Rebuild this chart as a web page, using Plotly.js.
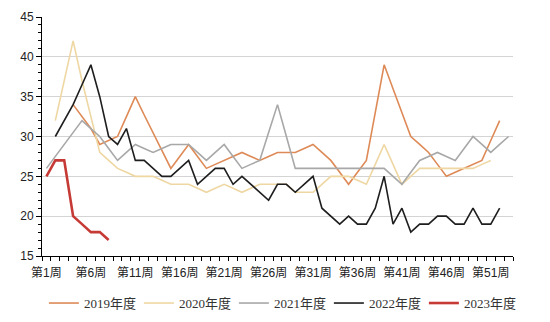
<!DOCTYPE html>
<html>
<head>
<meta charset="utf-8">
<script src="https://cdn.plot.ly/plotly-3.0.1.min.js"></script>
<style>
html,body{margin:0;padding:0;background:#fff;}
#chart{width:550px;height:322px;}
</style>
</head>
<body>
<div id="chart"></div>
<script>
// Week numbers (category positions)
var weeks = [1,2,3,4,5,6,7,8,9,10,11,12,13,14,15,16,17,18,19,20,21,22,23,24,25,26,27,28,29,30,31,32,33,34,35,36,37,38,39,40,41,42,43,44,45,46,47,48,49,50,51,52,53];
var tickVals = [1,6,11,16,21,26,31,36,41,46,51];
var tickText = ["第1周","第6周","第11周","第16周","第21周","第26周","第31周","第36周","第41周","第46周","第51周"];

var seriesNames = ["2019年度","2020年度","2021年度","2022年度","2023年度"];

var v2019 = [null,null,null,34,32.5,31,29,29.5,30,32.5,35,32.7,30.5,28.2,26,27.5,29,27.5,26,26.5,27,27.5,28,27.5,27,27.5,28,28,28,28.5,29,28,27,25.5,24,25.5,27,33,39,36,33,30,29,28,26.5,25,25.5,26,26.5,27,29.5,32,null];
var v2020 = [null,32,37,42,37,32.5,28,27,26,25.5,25,25,25,24.5,24,24,24,23.5,23,23.5,24,23.5,23,23.5,24,24,24,24,23,23,23,24,25,25,25,24.5,24,26.5,29,26.5,24,25,26,26,26,26,26,26,26,26.5,27,null,null];
var v2021 = [26,27.5,29,30.5,32,31,30,28.5,27,28,29,28.5,28,28.5,29,29,29,28,27,28,29,27.5,26,26.5,27,30.5,34,30,26,26,26,26,26,26,26,26,26,26,26,25,24,25.5,27,27.5,28,27.5,27,28.5,30,29,28,29,30];
var v2022 = [null,30,32,34,36.5,39,35,30,29,31,27,27,26,25,25,26,27,24,25,26,26,24,25,24,23,22,24,24,23,24,25,21,20,19,20,19,19,21,25,19,21,18,19,19,20,20,19,19,21,19,19,21,null];
var v2023 = [25,27,27,20,19,18,18,17];

var colors = ["#DE8A57","#EED7A3","#A8A8A8","#1E1E1E","#C63A36"];
var widths = [1.6,1.6,1.6,1.6,2.6];
var values = [v2019,v2020,v2021,v2022,v2023];

var traces = values.map(function(v,i){
  return {
    type:"scatter", mode:"lines",
    x: weeks.slice(0, v.length), y: v,
    name: seriesNames[i],
    line:{color:colors[i], width:widths[i]},
    connectgaps:false,
    hoverinfo:"skip"
  };
});

var layout = {
  width:550, height:322,
  margin:{l:42, r:37, t:17, b:66, autoexpand:false},
  paper_bgcolor:"#fff", plot_bgcolor:"#fff",
  showlegend:true,
  legend:{
    orientation:"h", x:0.004, xanchor:"left", y:-0.197, yanchor:"middle",
    font:{family:"Liberation Serif, 'Noto Sans CJK SC', serif", size:13, color:"#333"},
    entrywidth:50, entrywidthmode:"pixels",
    traceorder:"normal", itemwidth:30
  },
  xaxis:{
    range:[0.5,53.5], type:"linear",
    tickmode:"array", tickvals:tickVals, ticktext:tickText,
    ticks:"", showgrid:false, zeroline:false,
    showline:true, linecolor:"#000", linewidth:1,
    ticklabelstandoff:6,
    tickfont:{family:"Liberation Sans, 'Noto Sans CJK SC', sans-serif", size:12, color:"#222"},
    minor:{ticks:"outside", tick0:0.5, dtick:1, ticklen:4, tickcolor:"#000", tickwidth:1, showgrid:false},
    fixedrange:true
  },
  yaxis:{
    range:[15,45], dtick:5, tick0:15,
    ticks:"outside", ticklen:5, tickcolor:"#000",
    showgrid:true, gridcolor:"#D4D4D4", gridwidth:1,
    zeroline:false, showline:true, linecolor:"#000", linewidth:1,
    tickfont:{family:"Liberation Sans, sans-serif", size:12, color:"#222"},
    minor:{ticks:"outside", dtick:1, ticklen:3, tickcolor:"#000", showgrid:false},
    fixedrange:true
  }
};

Plotly.newPlot("chart", traces, layout, {displayModeBar:false, staticPlot:true});
</script>
</body>
</html>
